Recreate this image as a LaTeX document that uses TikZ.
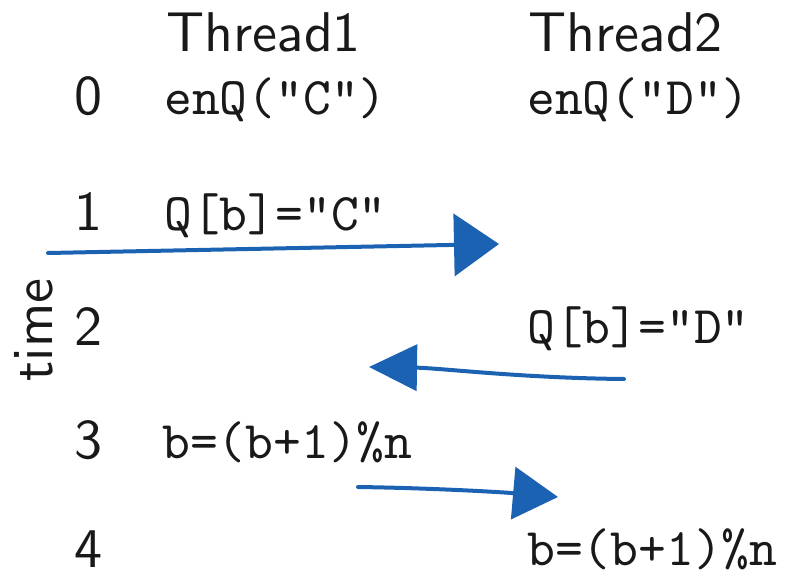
\documentclass[tikz,border=0pt]{standalone}
\usetikzlibrary{arrows.meta}
\definecolor{pen}{RGB}{28,98,178}
\definecolor{ink}{RGB}{25,25,25}
\font\sslarge=cmss10 at 56pt
\font\ttlarge=cmtt10 at 53pt
\begin{document}
\begin{tikzpicture}[x=1pt,y=-1pt,
  lbl/.style={anchor=base west,inner sep=0pt,text=ink,font=\sslarge},
  code/.style={anchor=base west,inner sep=0pt,text=ink,font=\ttlarge},
  pencil/.style={draw=pen,line width=4pt,line cap=round}]
\useasboundingbox (0,0) rectangle (798,578);
% headings
\node[lbl] (th1) at (166,52) {Thread1};
\node[lbl] (th2) at (528,52) {Thread2};
% time axis
\node[lbl,anchor=base,rotate=90] (time) at (52,330) {time};
\node[lbl] (t0) at (74,114) {0};
\node[lbl] (t1) at (74,230) {1};
\node[lbl] (t2) at (74,345) {2};
\node[lbl] (t3) at (74,458) {3};
\node[lbl] (t4) at (74,567) {4};
% code
\node[code] (a0) at (164,114) {enQ("C")};
\node[code] (b0) at (527,114) {enQ("D")};
\node[code] (a1) at (164,230) {Q[b]="C"};
\node[code] (b2) at (527,343) {Q[b]="D"};
\node[code] (a3) at (162,458) {b=(b+1)\%n};
\node[code] (b4) at (527,565) {b=(b+1)\%n};
% arrows
\coordinate (s1) at (48,253);
\coordinate (e1) at (499,244);
\coordinate (s2) at (624,379);
\coordinate (e2) at (369,367);
\coordinate (s3) at (358,487);
\coordinate (e3) at (558,497);
\draw[pencil,-{Triangle[length=45pt,width=62pt]}] (s1) -- (e1);
\draw[pencil,-{Triangle[length=48pt,width=46pt]}] (s2) .. controls (520,378) and (440,368) .. (e2);
\draw[pencil,-{Triangle[length=45pt,width=52pt]}] (s3) .. controls (430,488) and (500,492) .. (e3);
\end{tikzpicture}
\end{document}
